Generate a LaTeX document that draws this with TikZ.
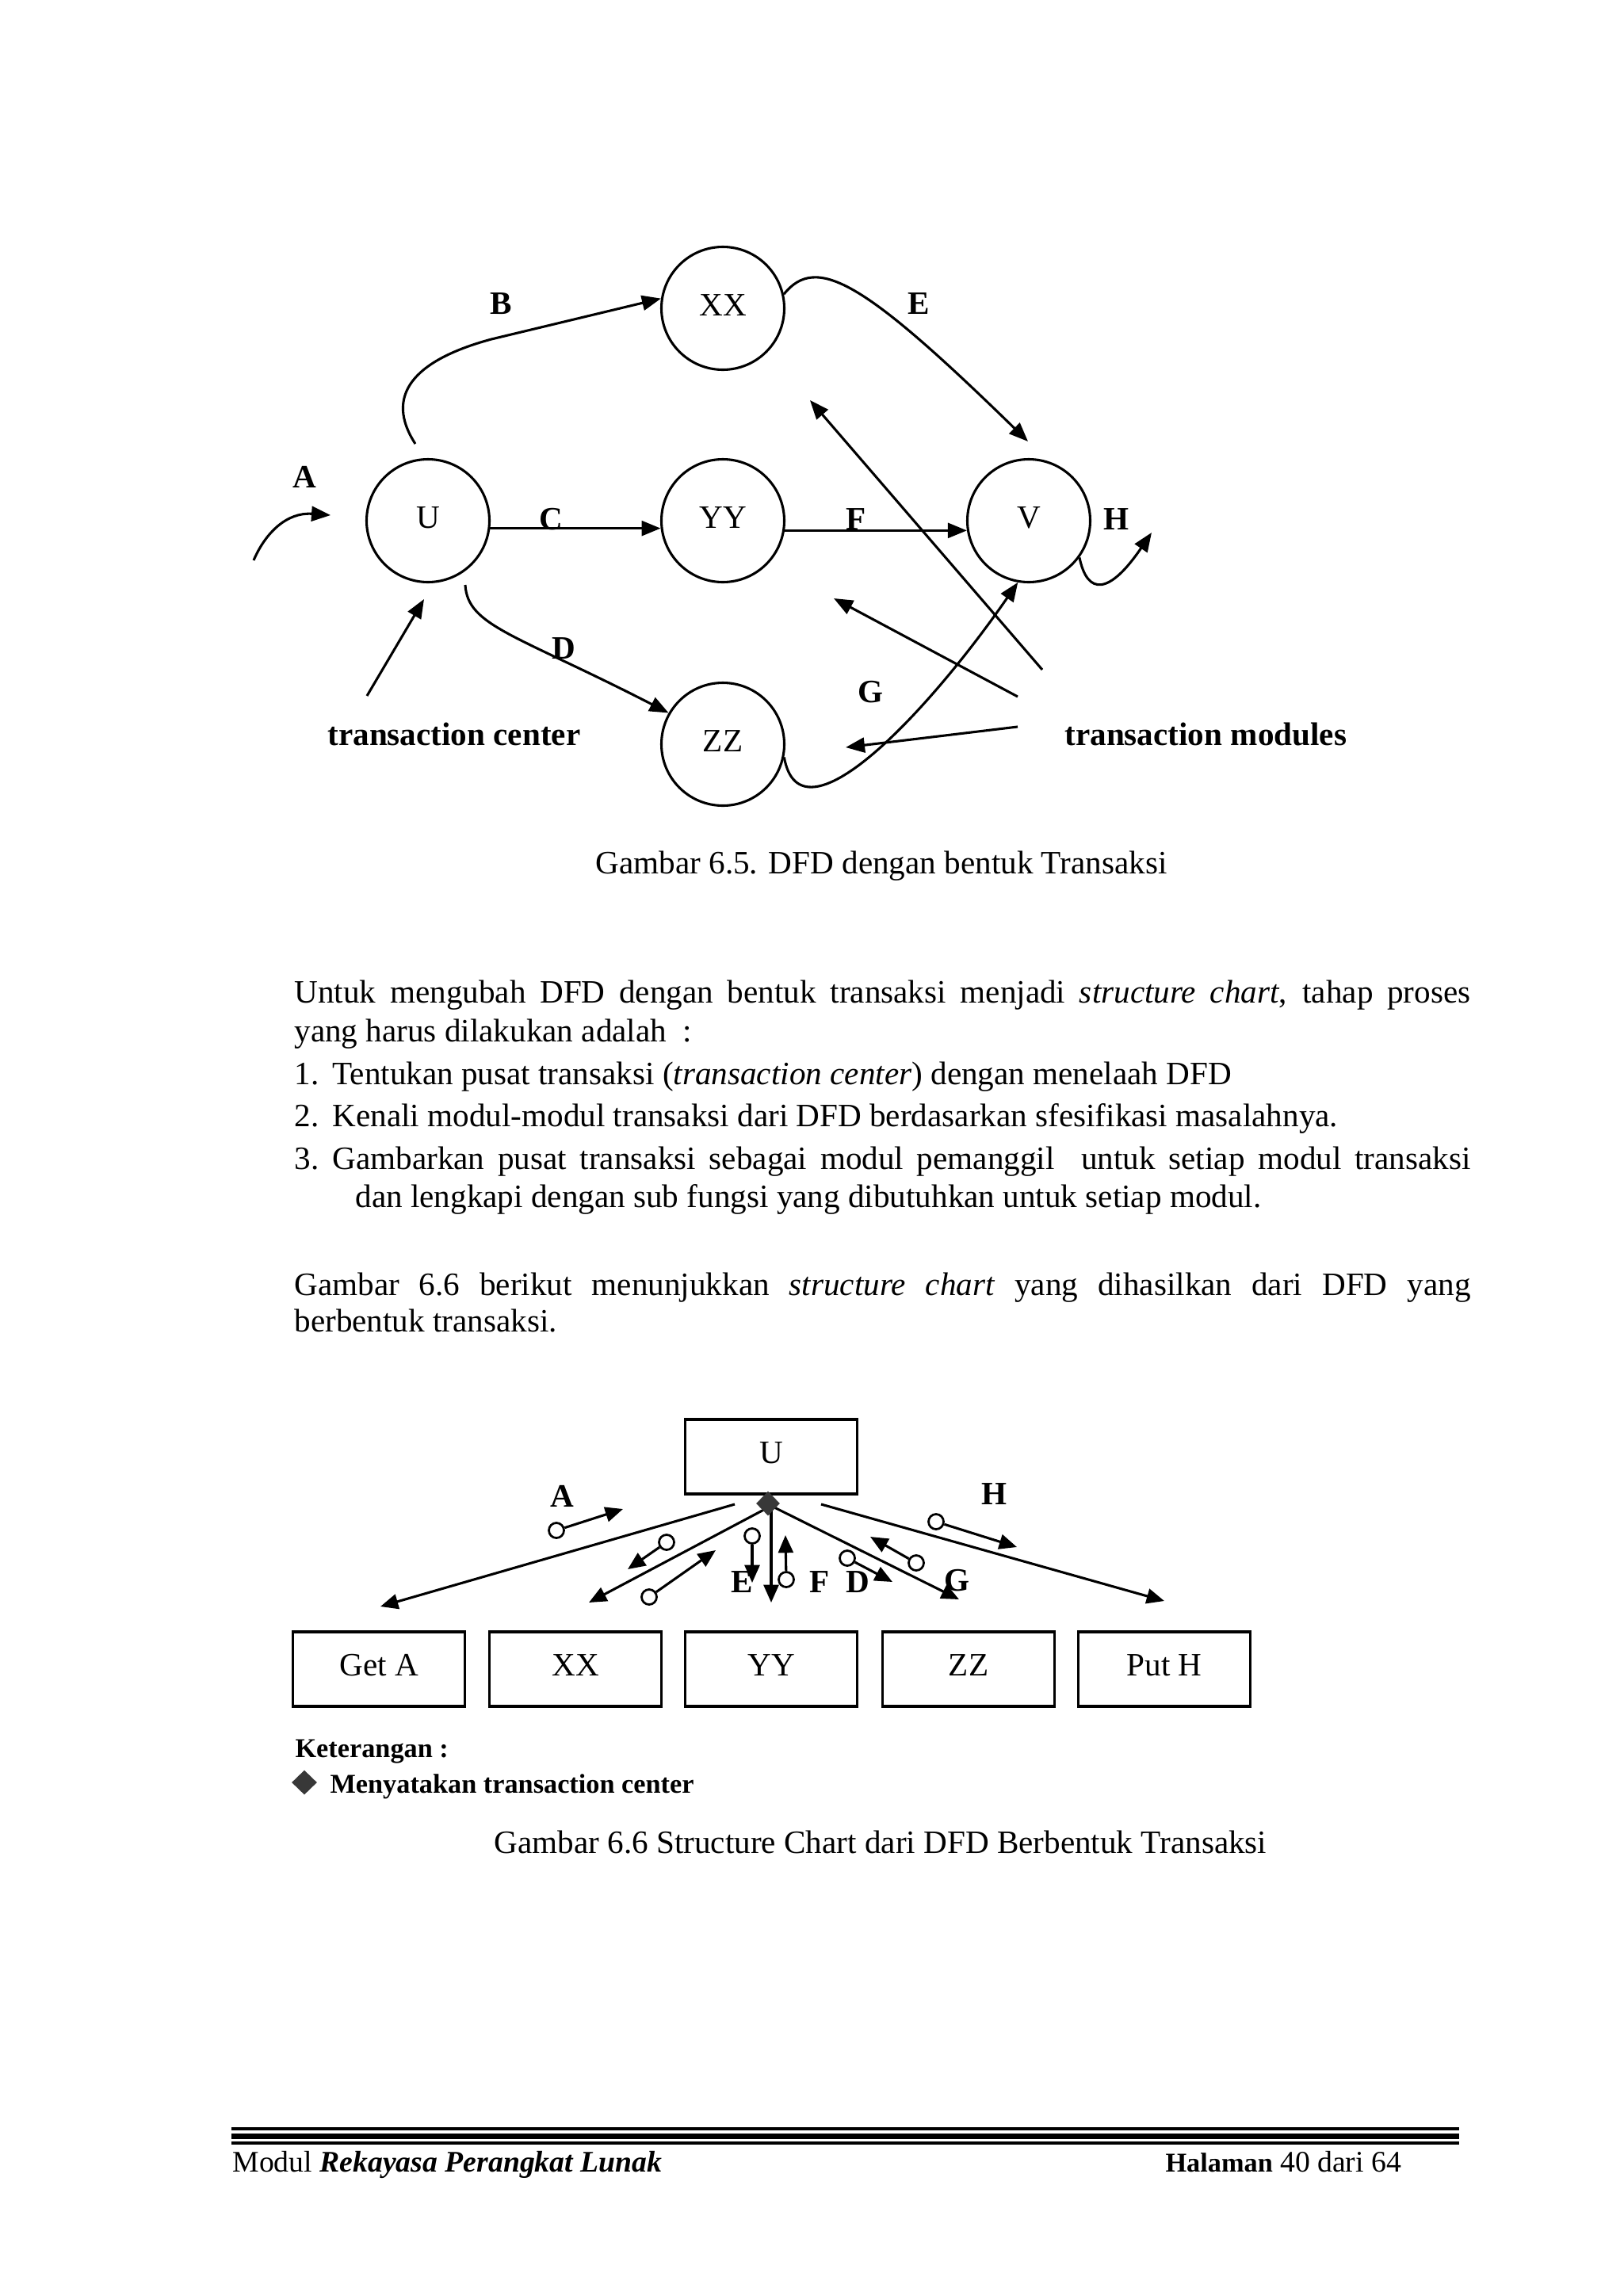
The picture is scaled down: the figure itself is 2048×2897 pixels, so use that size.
\documentclass[tikz,border=0pt]{standalone}
\usepackage{fontspec}
\setmainfont{Liberation Serif}
\usetikzlibrary{arrows.meta,shapes.geometric}
\newlength\pxu
\setlength\pxu{0.1025mm}
\begin{document}
\begin{tikzpicture}[x=\pxu,y=-\pxu,line width=0.9pt,
  proc/.style={draw,circle,minimum size=155\pxu,inner sep=0pt,line width=0.9pt,text height=27\pxu,text depth=8\pxu,font=\fontsize{12}{14}\selectfont},
  lbl/.style={inner sep=0pt,font=\bfseries\fontsize{12}{14}\selectfont},
  arr/.style={-{Triangle[length=7pt,width=5.5pt]},line width=0.9pt},
  sarr/.style={-{Triangle[length=6.5pt,width=5.5pt]},line width=0.9pt},
  modbox/.style={draw,rectangle,minimum width=217\pxu,minimum height=94\pxu,inner sep=0pt,line width=1pt,text height=27\pxu,text depth=10\pxu,font=\fontsize{12}{14}\selectfont},
  couple/.style={draw,circle,minimum size=19\pxu,inner sep=0pt,line width=0.8pt},
  tcdia/.style={diamond,fill=black!78,draw=none,minimum width=31\pxu,minimum height=32\pxu,inner sep=0pt},
  body/.style={anchor=base west,inner sep=0pt,font=\fontsize{12}{14}\selectfont},
  kbody/.style={anchor=base west,inner sep=0pt,font=\bfseries\fontsize{10}{12}\selectfont}]
\fill[white] (0,0) rectangle (2048,2897);
\useasboundingbox (0,0) rectangle (2048,2897);

% ---------- Figure 6.5 ----------
\node[proc] (U) at (540,657) {U};
\node[proc] (XX) at (912,389) {XX};
\node[proc] (YY) at (912,657) {YY};
\node[proc] (V) at (1298,657) {V};
\node[proc] (ZZ) at (912,939) {ZZ};

\coordinate (aS) at (320,707);
\coordinate (aE) at (417,650);
\draw[arr] (aS) .. controls (335,672) and (362,646) .. (aE);

\coordinate (bS) at (524,560);
\draw[arr] (bS) .. controls (485,500) and (520,455) .. (620,428) -- (XX.171);

\draw[arr] (U.-7) -- (YY.187);
\draw[arr] (YY.-9) -- (V.189);

\coordinate (dS) at (587,738);
\draw[arr] (dS) .. controls (590,790) and (650,800) .. (ZZ.150);

\coordinate (eE) at (1297,557);
\draw[arr] (XX.13) .. controls (1030,320) and (1090,355) .. (eE);

\draw[arr] (ZZ.-12) .. controls (1010,1070) and (1170,900) .. (V.-100);

\coordinate (hE) at (1453,672);
\draw[arr] (V.-36) .. controls (1372,752) and (1400,750) .. (hE);

\node[lbl] (lA) at (384,602) {A};
\node[lbl] (lB) at (632,383) {B};
\node[lbl] (lC) at (695,655) {C};
\node[lbl] (lD) at (711,818) {D};
\node[lbl] (lE) at (1159,383) {E};
\node[lbl] (lF) at (1080,655) {F};
\node[lbl] (lG) at (1098,873) {G};
\node[lbl] (lH) at (1408,655) {H};

\node[lbl,anchor=base west] (tc) at (412,940) {transaction center};
\coordinate (tcS) at (463,878);
\coordinate (tcE) at (535,756);
\draw[arr] (tcS) -- (tcE);

\node[lbl,anchor=base west] (tm) at (1342,940) {transaction modules};
\coordinate (m1) at (1315,845);
\coordinate (m1e) at (1022,505);
\coordinate (m2) at (1284,879);
\coordinate (m2e) at (1052,755);
\coordinate (m3) at (1284,917);
\coordinate (m3e) at (1067,943);
\draw[arr] (m1) -- (m1e);
\draw[arr] (m2) -- (m2e);
\draw[arr] (m3) -- (m3e);

\node[body,anchor=base] (cap1) at (1112,1102) {Gambar 6.5. DFD dengan bentuk Transaksi};

% ---------- Body text ----------
\node[body] (t1) at (370,1265) {\makebox[1484\pxu][s]{Untuk mengubah DFD dengan bentuk transaksi menjadi \textit{structure chart}, tahap proses}};
\node[body] (t2) at (370,1314) {yang harus dilakukan adalah\ \ :};
\node[body] (n1) at (370,1368) {1.};
\node[body] (t3) at (418,1368) {Tentukan pusat transaksi (\textit{transaction center}) dengan menelaah DFD};
\node[body] (n2) at (370,1421) {2.};
\node[body] (t4) at (418,1421) {Kenali modul-modul transaksi dari DFD berdasarkan sfesifikasi masalahnya.};
\node[body] (n3) at (370,1475) {3.};
\node[body] (t5) at (418,1475) {\makebox[1436\pxu][s]{Gambarkan pusat transaksi sebagai modul pemanggil\ \ untuk setiap modul transaksi}};
\node[body] (t6) at (447,1523) {dan lengkapi dengan sub fungsi yang dibutuhkan untuk setiap modul.};
\node[body] (t7) at (370,1634) {\makebox[1484\pxu][s]{Gambar 6.6 berikut menunjukkan \textit{structure chart} yang dihasilkan dari DFD yang}};
\node[body] (t8) at (370,1680) {berbentuk transaksi.};

% ---------- Figure 6.6 ----------
\node[modbox] (sU) at (973,1838) {U};
\node[modbox] (gA) at (478,2106) {Get A};
\node[modbox] (sXX) at (726,2106) {XX};
\node[modbox] (sYY) at (973,2106) {YY};
\node[modbox] (sZZ) at (1222,2106) {ZZ};
\node[modbox] (pH) at (1469,2106) {Put H};

\coordinate (dc) at (973,1900);
\coordinate (sA0) at (927,1898);
\coordinate (sA1) at (480,2027);
\coordinate (sX1) at (743,2022);
\coordinate (sY1) at (973,2022);
\coordinate (sZ1) at (1210,2018);
\coordinate (sH0) at (1036,1898);
\coordinate (sH1) at (1469,2020);
\draw[sarr] (sA0) -- (sA1);
\draw[sarr] (dc) -- (sX1);
\draw[sarr] (dc) -- (sY1);
\draw[sarr] (dc) -- (sZ1);
\draw[sarr] (sH0) -- (sH1);
\node[tcdia] (dia) at (969,1897) {};

\node[couple] (cA) at (702,1931) {};
\coordinate (tA) at (786,1904);
\node[couple] (cX1) at (841,1946) {};
\coordinate (tX1) at (792,1980);
\node[couple] (cX2) at (819,2015) {};
\coordinate (tX2) at (903,1956);
\node[couple] (cE) at (949,1938) {};
\coordinate (tE) at (949,1997);
\node[couple] (cF) at (992,1993) {};
\coordinate (tF) at (991,1937);
\node[couple] (cD) at (1069,1966) {};
\coordinate (tD) at (1126,1996);
\node[couple] (cG) at (1156,1972) {};
\coordinate (tG) at (1098,1939);
\node[couple] (cH) at (1181,1920) {};
\coordinate (tH) at (1283,1952);
\draw[sarr] (cA) -- (tA);
\draw[sarr] (cX1) -- (tX1);
\draw[sarr] (cX2) -- (tX2);
\draw[sarr] (cE) -- (tE);
\draw[sarr] (cF) -- (tF);
\draw[sarr] (cD) -- (tD);
\draw[sarr] (cG) -- (tG);
\draw[sarr] (cH) -- (tH);

\node[lbl] (sLA) at (709,1888) {A};
\node[lbl] (sLH) at (1254,1885) {H};
\node[lbl] (sLE) at (936,1996) {E};
\node[lbl] (sLF) at (1034,1996) {F};
\node[lbl] (sLD) at (1082,1996) {D};
\node[lbl] (sLG) at (1207,1994) {G};

\node[kbody] (ket) at (371,2217) {Keterangan :};
\node[tcdia,minimum width=33\pxu,minimum height=32\pxu] (kdia) at (384,2249) {};
\node[kbody] (ket2) at (415,2262) {Menyatakan transaction center};

\node[body,anchor=base] (cap2) at (1111,2338) {Gambar 6.6 Structure Chart dari DFD Berbentuk Transaksi};

% ---------- Footer ----------
\draw[line width=1pt] (292,2686) -- (1841,2686);
\draw[line width=1.9pt] (292,2695.5) -- (1841,2695.5);
\draw[line width=1pt] (292,2704) -- (1841,2704);
\node[anchor=base west,inner sep=0pt,font=\fontsize{11}{13}\selectfont] (foot1) at (292,2740) {Modul \textbf{\textit{Rekayasa Perangkat Lunak}}};
\node[anchor=base west,inner sep=0pt,font=\fontsize{11}{13}\selectfont] (foot2) at (1469,2740) {{\fontsize{10}{12}\selectfont\bfseries Halaman} 40 dari 64};
\end{tikzpicture}
\end{document}
